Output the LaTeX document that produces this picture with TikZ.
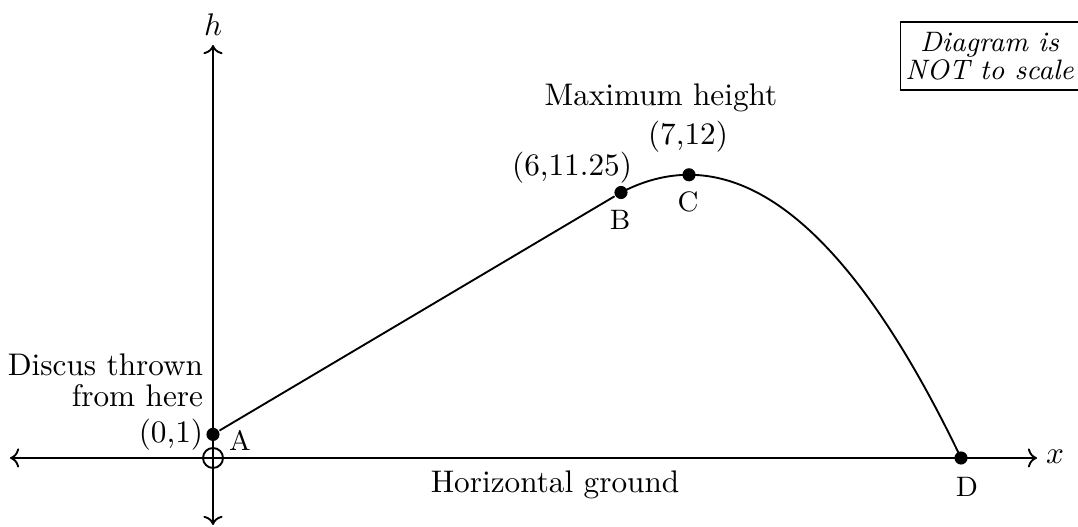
\documentclass[tikz,border=0pt]{standalone}
\usetikzlibrary{arrows.meta}
\begin{document}
\begin{tikzpicture}[x=0.32pt,y=-0.32pt,line width=0.6pt,
  dot/.style={circle,fill=black,inner sep=0pt,minimum size=4.2pt},
  ptlabel/.style={font=\small,inner sep=0pt},
  lbl/.style={inner sep=0pt}]
\useasboundingbox (0,0) rectangle (1078,527);
% axes
\coordinate (xl) at (10,458);
\coordinate (xr) at (1037,458);
\coordinate (yb) at (213,525);
\coordinate (yt) at (213,45);
\draw[<->] (xl) -- (xr);
\draw[<->] (yb) -- (yt);
\node[lbl] (xlab) at (1055,457) {$x$};
\node[lbl] (hlab) at (213,25) {$h$};
% origin
\node[circle,draw,inner sep=0pt,minimum size=6.4pt,line width=0.6pt] (O) at (213,458) {};
% points
\node[dot] (A) at (213,434.4) {};
\node[dot] (B) at (621,192.5) {};
\node[dot] (C) at (689,174.8) {};
\node[dot] (D) at (961,458) {};
% curves
\draw (A) -- (B);
\draw[domain=6:11,samples=80,smooth] plot ({213+68*\x},{458-23.6*(12-0.75*(\x-7)*(\x-7))});
% labels
\node[ptlabel] (Al) at (240,440) {A};
\node[ptlabel] (Bl) at (620,220) {B};
\node[ptlabel] (Cl) at (688,202) {C};
\node[ptlabel] (Dl) at (967,487) {D};
\node[lbl,anchor=east] (Ac) at (204,435) {(0,1)};
\node[lbl] (Bc) at (572,168) {(6,11.25)};
\node[lbl] (Cc) at (688,137) {(7,12)};
\node[lbl] (max) at (661,98) {Maximum height};
\node[lbl,anchor=east,align=right,font={\fontsize{10pt}{10pt}\selectfont}] (disc) at (204,380) {Discus thrown\\from here};
\node[lbl] (ground) at (555,485) {Horizontal ground};
\node[draw,align=center,font={\fontsize{9pt}{9pt}\selectfont\itshape},inner xsep=1.6pt,inner ysep=3.2pt,line width=0.5pt] (note) at (989.5,56) {Diagram is\\NOT to scale};
\end{tikzpicture}
\end{document}
